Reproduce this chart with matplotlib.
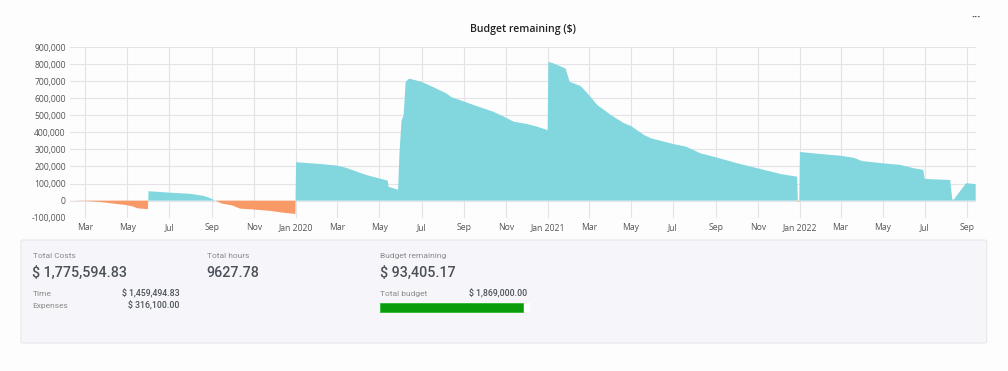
import numpy as np
import pandas as pd
import matplotlib
matplotlib.use("Agg")
import matplotlib.pyplot as plt
import matplotlib.dates as mdates
from matplotlib.patches import FancyBboxPatch, Rectangle
from matplotlib.ticker import FuncFormatter

# Dati (budget residuo in $)
dates = [
    "2019-02-07", "2019-03-01", "2019-03-23", "2019-05-01", "2019-05-10", "2019-05-16",
    "2019-05-31", "2019-06-01", "2019-07-01", "2019-07-31", "2019-08-20", "2019-08-29",
    "2019-09-06", "2019-09-15", "2019-09-30", "2019-10-12", "2019-11-01", "2019-11-24",
    "2019-12-16", "2019-12-31",
    "2020-01-01", "2020-02-04", "2020-03-01", "2020-03-13", "2020-04-12", "2020-05-13",
    "2020-05-14", "2020-05-28", "2020-05-30", "2020-06-02", "2020-06-05", "2020-06-08",
    "2020-06-13", "2020-07-01", "2020-07-17", "2020-08-06", "2020-08-14", "2020-09-01",
    "2020-09-19", "2020-10-13", "2020-10-29", "2020-11-12", "2020-12-01", "2020-12-16",
    "2020-12-31",
    "2021-01-01", "2021-01-09", "2021-01-26", "2021-02-01", "2021-02-17", "2021-03-01",
    "2021-03-13", "2021-04-02", "2021-04-21", "2021-05-01", "2021-05-20", "2021-05-30",
    "2021-07-01", "2021-07-20", "2021-08-10", "2021-09-01", "2021-10-02", "2021-11-01",
    "2021-12-04", "2021-12-28", "2021-12-29", "2021-12-31",
    "2022-01-01", "2022-01-31", "2022-03-01", "2022-03-20", "2022-04-01", "2022-05-01",
    "2022-05-27", "2022-06-16", "2022-06-29", "2022-07-01", "2022-08-07", "2022-08-10",
    "2022-08-12", "2022-08-30", "2022-09-13",
]
remaining = [
    0, -2000, -8000, -27000, -35000, -45000,
    -50000, 55000, 47000, 40000, 28000, 15000,
    0, -17000, -28000, -47000, -52000, -60000,
    -72000, -78000,
    225000, 215000, 205000, 193000, 150000, 117000,
    82000, 63000, 280000, 470000, 500000, 695000,
    715000, 696000, 667000, 628000, 605000, 580000,
    554000, 521000, 491000, 462000, 449000, 433000,
    413000,
    813000, 803000, 774000, 696000, 671000, 618000,
    560000, 501000, 453000, 437000, 384000, 365000,
    332000, 316000, 277000, 254000, 219000, 189000,
    156000, 140000, -5000, -5000,
    285000, 273000, 263000, 251000, 232000, 219000,
    209000, 189000, 180000, 127000, 121000, 8000,
    5000, 102000, 97000,
]

tick_dates = ["2019-03-01", "2019-05-01", "2019-07-01", "2019-09-01", "2019-11-01",
              "2020-01-01", "2020-03-01", "2020-05-01", "2020-07-01", "2020-09-01",
              "2020-11-01", "2021-01-01", "2021-03-01", "2021-05-01", "2021-07-01",
              "2021-09-01", "2021-11-01", "2022-01-01", "2022-03-01", "2022-05-01",
              "2022-07-01", "2022-09-01"]
tick_labels = ["Mar", "May", "Jul", "Sep", "Nov", "Jan 2020", "Mar", "May", "Jul", "Sep",
               "Nov", "Jan 2021", "Mar", "May", "Jul", "Sep", "Nov", "Jan 2022", "Mar",
               "May", "Jul", "Sep"]

# Riepilogo sotto il grafico
total_costs = "$ 1,775,594.83"
time_cost = "$ 1,459,494.83"
expenses = "$ 316,100.00"
total_hours = "9627.78"
budget_remaining = "$ 93,405.17"
total_budget = "$ 1,869,000.00"
budget_used_fraction = 1775594.83 / 1869000.00

teal = "#82d7df"
orange = "#f89a67"
grid_col = "#e4e4e8"
label_col = "#555555"

plt.rcParams["font.family"] = ["Open Sans", "DejaVu Sans"]

fig = plt.figure(figsize=(10.08, 3.71), dpi=100)
fig.patch.set_facecolor("#fdfdfd")

W, H = 1008.0, 371.0
ax = fig.add_axes([70 / W, 1 - 217.7 / H, (975.7 - 70) / W, (217.7 - 47) / H])
ax.set_facecolor("#fdfdfd")

x = mdates.date2num(pd.to_datetime(dates))
y = np.array(remaining, dtype=float)
ax.fill_between(x, 0, y, where=y >= 0, interpolate=True, color=teal, lw=0)
ax.fill_between(x, 0, y, where=y <= 0, interpolate=True, color=orange, lw=0)

ax.set_xlim(mdates.date2num(pd.Timestamp("2019-02-07")), mdates.date2num(pd.Timestamp("2022-09-13")))
ax.set_ylim(-100000, 900000)
ax.set_yticks(np.arange(-100000, 900001, 100000))
ax.yaxis.set_major_formatter(FuncFormatter(lambda v, p: "{:,.0f}".format(v)))
ax.set_xticks(mdates.date2num(pd.to_datetime(tick_dates)))
ax.set_xticklabels(tick_labels)
ax.tick_params(length=0, labelsize=6.2, colors=label_col, pad=4)
ax.tick_params(axis="y", pad=3)
ax.grid(True, color=grid_col, lw=0.8)
ax.set_axisbelow(True)
for s in ax.spines.values():
    s.set_visible(False)

fig.text(523 / W, 1 - 29.3 / H, "Budget remaining ($)", ha="center", va="center",
         fontsize=7.6, color="#222222", fontweight="semibold")
fig.text(976 / W, 1 - 17 / H, "···", ha="center", va="center", fontsize=8, color="#555555",
         fontweight="bold")

# Card riepilogativa
card = FancyBboxPatch((21 / W, 1 - 343 / H), (986.7 - 21) / W, (343 - 240) / H,
                      boxstyle="round,pad=0,rounding_size=0.003", transform=fig.transFigure,
                      facecolor="#f6f6fa", edgecolor="#e6e6ec", lw=0.8)
fig.patches.append(card)

small_col = "#8a8a8a"
big_col = "#4a4f58"
card_font = ["Roboto", "DejaVu Sans"]


def ftext(px, py, s, **kw):
    fig.text(px / W, 1 - py / H, s, va="center", family=card_font, **kw)


ftext(32.7, 255.7, "Total Costs", fontsize=6.0, color=small_col)
ftext(32, 273.3, total_costs, fontsize=10.3, color=big_col, fontweight="medium")
ftext(32.7, 294, "Time", fontsize=6.0, color=small_col)
ftext(179.3, 294, time_cost, fontsize=6.3, color=big_col, ha="right", fontweight="medium")
ftext(32.7, 306, "Expenses", fontsize=6.0, color=small_col)
ftext(179.3, 306, expenses, fontsize=6.3, color=big_col, ha="right", fontweight="medium")

ftext(206.7, 255.7, "Total hours", fontsize=6.0, color=small_col)
ftext(206, 273.3, total_hours, fontsize=10.3, color=big_col, fontweight="medium")

ftext(380, 255.7, "Budget remaining", fontsize=6.0, color=small_col)
ftext(379.5, 273.3, budget_remaining, fontsize=10.3, color=big_col, fontweight="medium")
ftext(380, 294, "Total budget", fontsize=6.0, color=small_col)
ftext(526.7, 294, total_budget, fontsize=6.3, color=big_col, ha="right", fontweight="medium")

bar_x0, bar_x1 = 380, 530
fig.patches.append(Rectangle((bar_x0 / W, 1 - 311.7 / H), (bar_x1 - bar_x0) / W, 8.4 / H,
                             transform=fig.transFigure, facecolor="#ffffff", edgecolor="none"))
fig.patches.append(Rectangle((bar_x0 / W, 1 - 311.7 / H),
                             (bar_x1 - bar_x0) * budget_used_fraction / W, 8.4 / H,
                             transform=fig.transFigure, facecolor="#0a9c0a", edgecolor="#2fb52f",
                             lw=0.6))

fig.savefig("out.png", dpi=100, facecolor=fig.get_facecolor())
